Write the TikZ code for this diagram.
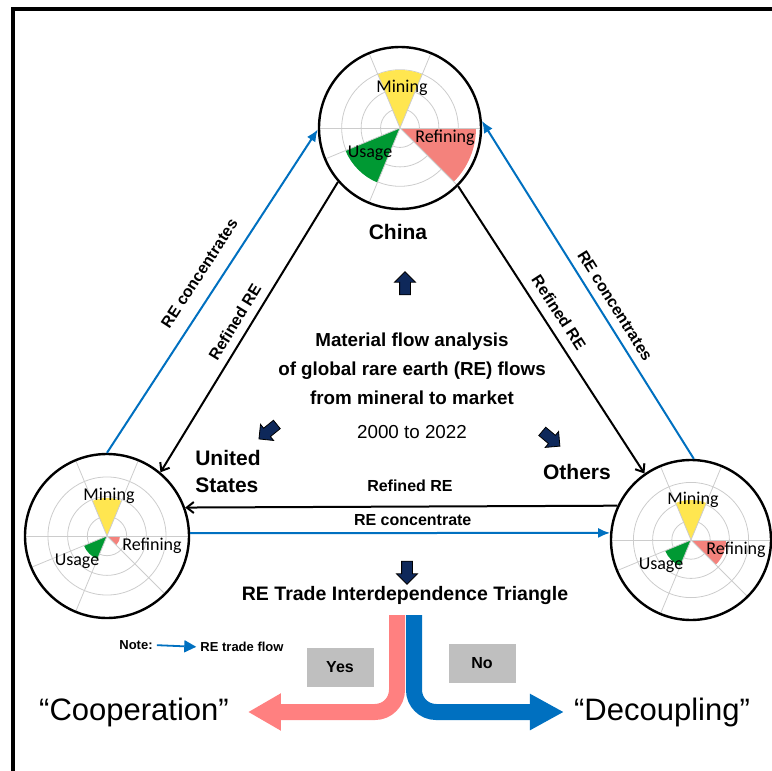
\documentclass[tikz,border=0pt]{standalone}
\usepackage{fontspec}
\setmainfont{Liberation Sans}
\newfontfamily\chartfont{Carlito}
\usetikzlibrary{arrows.meta,shapes.arrows}

\definecolor{reblue}{RGB}{0,112,192}
\definecolor{repink}{RGB}{255,128,128}
\definecolor{minegold}{RGB}{255,230,80}
\definecolor{refinered}{RGB}{244,130,124}
\definecolor{usegreen}{RGB}{0,153,51}
\definecolor{boxgray}{RGB}{191,191,191}
\definecolor{cuenavy}{RGB}{14,40,90}

\newcommand{\polarchart}[6]{%
        \begin{scope}[shift={(#2)}]
        \foreach \f in {0.24,0.48,0.72}
                \draw [gridline] (0,0) circle ({\f*#3});
        \fill [minegold] (0,0) -- (67.5:#4) arc (67.5:112.5:#4) -- cycle;
        \fill [refinered] (0,0) -- (-45:#5) arc (-45:0:#5) -- cycle;
        \fill [usegreen] (0,0) -- (202.5:#6) arc (202.5:247.5:#6) -- cycle;
        \foreach \a in {67.5,112.5,202.5,247.5,315}
                \draw [gridline] (0,0) -- (\a:#3);
        \draw [gridline] (180:#3) -- (0:#3);
        \node [petal] (#1-mining) at (2,40) {Mining};
        \node [petal] (#1-refining) at (45,-10) {Refining};
        \node [petal] (#1-usage) at (-30,-25) {Usage};
        \end{scope}}

\begin{document}
\begin{tikzpicture}[x=1pt,y=1pt]
        \tikzstyle{every node}+=[inner sep=0pt]
        \tikzstyle{gridline}=[gray!40, line width=0.8pt]
        \tikzstyle{petal}=[font=\chartfont\fontsize{18}{20}\selectfont]
        \tikzstyle{country}=[circle, draw=black, line width=2.4pt]
        \tikzstyle{cname}=[font=\bfseries\fontsize{21}{27}\selectfont, align=left]
        \tikzstyle{center}=[font=\bfseries\fontsize{18.8}{29}\selectfont, align=center]
        \tikzstyle{edge}=[text=black, font=\bfseries\fontsize{16}{18}\selectfont]
        \tikzstyle{refined}=[black, line width=2pt, -{Straight Barb[length=7pt,width=11pt]}]
        \tikzstyle{concentrate}=[reblue, line width=2pt, -{Latex[length=12pt,width=10pt]}]
        \tikzstyle{cue}=[single arrow, draw=black, line width=0.8pt, fill=cuenavy, minimum height=23pt, inner sep=5pt, single arrow head extend=5pt]
        \tikzstyle{choice}=[fill=boxgray, minimum width=67pt, minimum height=39pt, font=\bfseries\fontsize{16}{18}\selectfont]
        \tikzstyle{outcome}=[font=\fontsize{31}{34}\selectfont]
        \useasboundingbox (0,0) rectangle (772,-771);
        \draw [black, line width=3.5pt] (13,-771) -- (13,-9) -- (772,-9);
        \polarchart{china}{400,-128}{81}{58}{76}{59}
        \polarchart{us}{107,-536}{82}{38}{13}{25}
        \polarchart{others}{691,-540}{80}{40}{35}{28}
        \node [country, minimum size=162pt] (china) at (400,-128) {};
        \node [country, minimum size=164pt] (us) at (107,-536) {};
        \node [country, minimum size=160pt] (others) at (691,-540) {};
        \node [cname] (chinaname) at (398,-232) {China};
        \node [cname] (usname) at (228,-471) {United\\States};
        \node [cname] (othersname) at (577,-472) {Others};
        \node [center] (mfa) at (412,-369) {Material flow analysis\\of global rare earth (RE) flows\\from mineral to market};
        \node [font=\fontsize{18.8}{22}\selectfont] (years) at (412,-432) {2000 to 2022};
        \node [cue, rotate=90] (cueup) at (405,-286) {};
        \node [cue, rotate=219] (cueus) at (270,-430) {};
        \node [cue, rotate=-40] (cueothers) at (549,-437) {};
        \node [cue, rotate=-90] (cuedown) at (407,-570) {};
        \draw [concentrate] (us.90) -- node [edge, pos=0.52, sloped, above=14pt] {RE concentrates} (china.181);
        \draw [refined] (china.221) -- node [edge, pos=0.51, sloped, above=8pt] {Refined RE} (us.50);
        \draw [refined] (china.315) -- node [edge, pos=0.47, sloped, above=9pt] {Refined RE} (others.125);
        \draw [concentrate] (others.88) -- node [edge, pos=0.43, sloped, above=8pt] {RE concentrates} (china.5);
        \draw [refined] (others.155.6) -- node [edge, pos=0.48, above=14pt] {Refined RE} (us.20.7);
        \draw [concentrate] (us.2) -- node [edge, pos=0.53, above=6pt] {RE concentrate} (others.175);
        \node [font=\bfseries\fontsize{19.5}{22}\selectfont] (triangle) at (405,-595) {RE Trade Interdependence Triangle};
        \node [font=\bfseries\fontsize{13}{15}\selectfont] (note) at (136,-645) {Note:};
        \node [font=\bfseries\fontsize{13}{15}\selectfont] (flow) at (242,-647) {RE trade flow};
        \draw [reblue, line width=1.8pt, shorten <=4pt, shorten >=4pt, -{Triangle[length=12pt,width=12pt]}] (note.east) -- (flow.west);
        \node [choice] (yes) at (340,-667) {Yes};
        \node [choice] (no) at (482,-663) {No};
        \node [outcome] (coop) at (134,-712) {“Cooperation”};
        \node [outcome] (decoup) at (662,-712) {“Decoupling”};
        \coordinate (pinktop) at (397,-615);
        \coordinate (bluetop) at (414,-615);
        \draw [repink, line width=16pt, rounded corners=22pt, shorten >=19pt, -{Triangle[length=33pt,width=35pt]}] (pinktop) |- (coop.east);
        \draw [reblue, line width=16pt, rounded corners=22pt, shorten >=10pt, -{Triangle[length=34pt,width=34pt]}] (bluetop) |- (decoup.west);
\end{tikzpicture}
\end{document}
